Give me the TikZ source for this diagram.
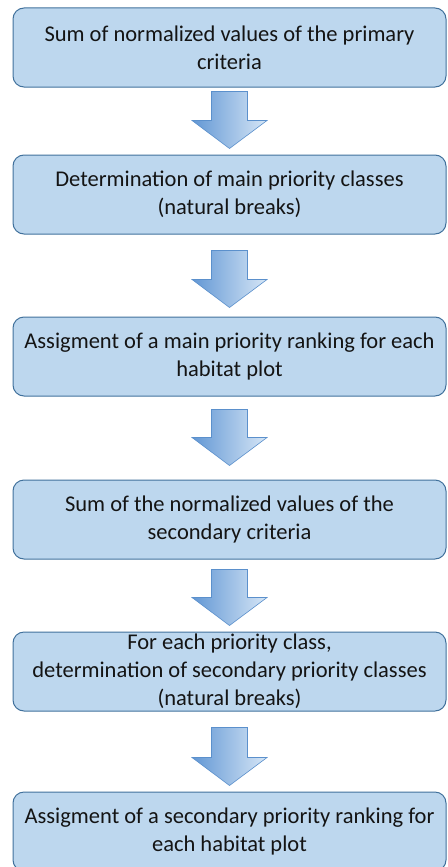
\documentclass[tikz,border=0pt]{standalone}
\usepackage{fontspec}
\setmainfont{Carlito}
\usetikzlibrary{positioning,calc}
\definecolor{boxfill}{RGB}{189,215,238}
\definecolor{boxline}{RGB}{65,113,156}
\definecolor{arrdark}{RGB}{98,151,212}
\definecolor{arrlight}{RGB}{214,230,246}
\definecolor{arrline}{RGB}{91,144,204}
\definecolor{txt}{RGB}{20,20,20}

% block arrow between two boxes: from, to, gap at start, gap at end
\newcommand{\fatarrow}[4]{%
  \path[fatflow] let \p1=($(#1.south)+(0,-#3)$), \p2=($(#2.north)+(0,#4)$) in
    (\x1-18pt,\y1) -- (\x1+18pt,\y1) -- (\x1+18pt,\y2+28pt) -- (\x1+37.5pt,\y2+28pt)
    -- (\x1,\y2) -- (\x1-37.5pt,\y2+28pt) -- (\x1-18pt,\y2+28pt) -- cycle;}

\begin{document}
\begin{tikzpicture}[
  x=1pt, y=1pt,
  stepbox/.style={draw=boxline, line width=1pt, fill=boxfill, rounded corners=11pt,
                  align=center, text=txt, font=\fontsize{22.5}{28}\selectfont,
                  minimum width=433pt, minimum height=79pt, inner sep=1pt},
  fatflow/.style={draw=arrline, line width=0.6pt, left color=arrdark, right color=arrlight},
  node distance=67pt
]
  \useasboundingbox (0,0) rectangle (447,-867);

  \node[stepbox] (sum1) at (229.5,-47.5) {Sum of normalized values of the primary\\criteria};
  \node[stepbox, below=67pt of sum1] (classes1) {Determination of main priority classes\\(natural breaks)};
  \node[stepbox, below=82pt of classes1] (rank1) {Assigment of a main priority ranking for each\\habitat plot};
  \node[stepbox, below=83pt of rank1] (sum2) {Sum of the normalized values of the\\secondary criteria};
  \node[stepbox, below=72pt of sum2] (classes2) {For each priority class,\\determination of secondary priority classes\\(natural breaks)};
  \node[stepbox, below=80pt of classes2] (rank2) {Assigment of a secondary priority ranking for\\each habitat plot};

  \fatarrow{sum1}{classes1}{4pt}{6pt}
  \fatarrow{classes1}{rank1}{16pt}{9pt}
  \fatarrow{rank1}{sum2}{13pt}{14pt}
  \fatarrow{sum2}{classes2}{10pt}{6pt}
  \fatarrow{classes2}{rank2}{16pt}{6pt}
\end{tikzpicture}
\end{document}
